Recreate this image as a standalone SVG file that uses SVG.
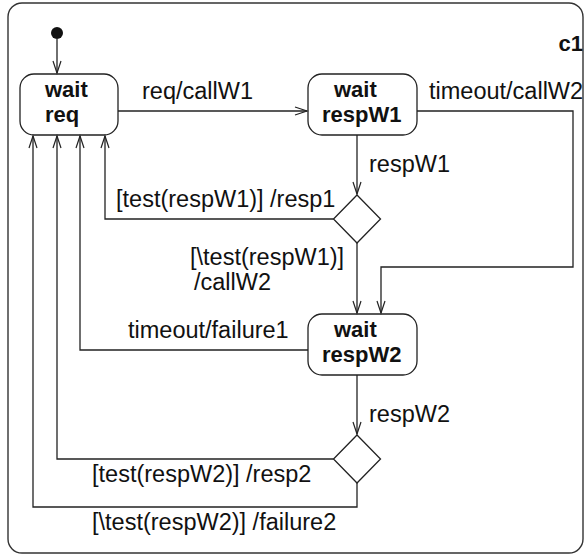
<svg xmlns="http://www.w3.org/2000/svg" width="587" height="555" viewBox="0 0 587 555">
<defs>
<marker id="arr" markerUnits="userSpaceOnUse" markerWidth="16" markerHeight="12" viewBox="-14 -6 16 12" refX="0" refY="0" orient="auto" overflow="visible">
<path d="M-12,-4 L0,0 L-12,4" fill="none" stroke="#222" stroke-width="1.2"/>
</marker>
</defs>
<style>
.frame{fill:#fff;stroke:#333;stroke-width:1.4}
.node{fill:#fff;stroke:#222;stroke-width:1.3}
.edge{fill:none;stroke:#222;stroke-width:1.3;marker-end:url(#arr)}
.lbl{font-family:"Liberation Sans",Arial,sans-serif;font-size:23.5px;fill:#111}
.nl{font-family:"Liberation Sans",Arial,sans-serif;font-size:22px;font-weight:bold;fill:#111}
</style>
<rect class="frame" x="8" y="3" width="575" height="550" rx="14"/>
<text class="nl" x="583" y="51" text-anchor="end">c1</text>
<g id="init"><circle cx="57" cy="33" r="6" fill="#111"/></g>
<g id="waitReq">
<rect class="node" x="20" y="74" width="98" height="61" rx="14"/>
<text class="nl" x="45" y="97">wait</text>
<text class="nl" x="45" y="122">req</text>
</g>
<g id="waitRespW1">
<rect class="node" x="308" y="74" width="109" height="61" rx="14"/>
<text class="nl" x="334" y="97">wait</text>
<text class="nl" x="322" y="122">respW1</text>
</g>
<g id="choice1"><path class="node" d="M357,195 L380.5,219 L357,243 L333.5,219 Z"/></g>
<g id="waitRespW2">
<rect class="node" x="308" y="314" width="109" height="61" rx="14"/>
<text class="nl" x="334" y="337">wait</text>
<text class="nl" x="322" y="362">respW2</text>
</g>
<g id="choice2"><path class="node" d="M357,435 L380.5,459 L357,483 L333.5,459 Z"/></g>
<g id="connectors">
<path class="edge" d="M57,39 L57,73"/>
<path class="edge" d="M118,111 L307,111"/>
<text class="lbl" x="142" y="99">req/callW1</text>
<path class="edge" d="M417,111 L573,111 L573,267 L381,267 L381,313"/>
<text class="lbl" x="429" y="99">timeout/callW2</text>
<path class="edge" d="M357,135 L357,194"/>
<text class="lbl" x="369" y="172">respW1</text>
<path class="edge" d="M333.5,219 L105,219 L105,136"/>
<text class="lbl" x="116" y="207">[test(respW1)] /resp1</text>
<path class="edge" d="M357,243 L357,313"/>
<text class="lbl" x="190" y="265">[\test(respW1)]</text>
<text class="lbl" x="194" y="290">/callW2</text>
<path class="edge" d="M308,350 L80,350 L80,136"/>
<text class="lbl" x="128" y="338">timeout/failure1</text>
<path class="edge" d="M357,375 L357,434"/>
<text class="lbl" x="369" y="422">respW2</text>
<path class="edge" d="M333.5,459 L57,459 L57,136"/>
<text class="lbl" x="92" y="482">[test(respW2)] /resp2</text>
<path class="edge" d="M357,483 L357,507 L33,507 L33,136"/>
<text class="lbl" x="92" y="530">[\test(respW2)] /failure2</text>
</g>
</svg>
